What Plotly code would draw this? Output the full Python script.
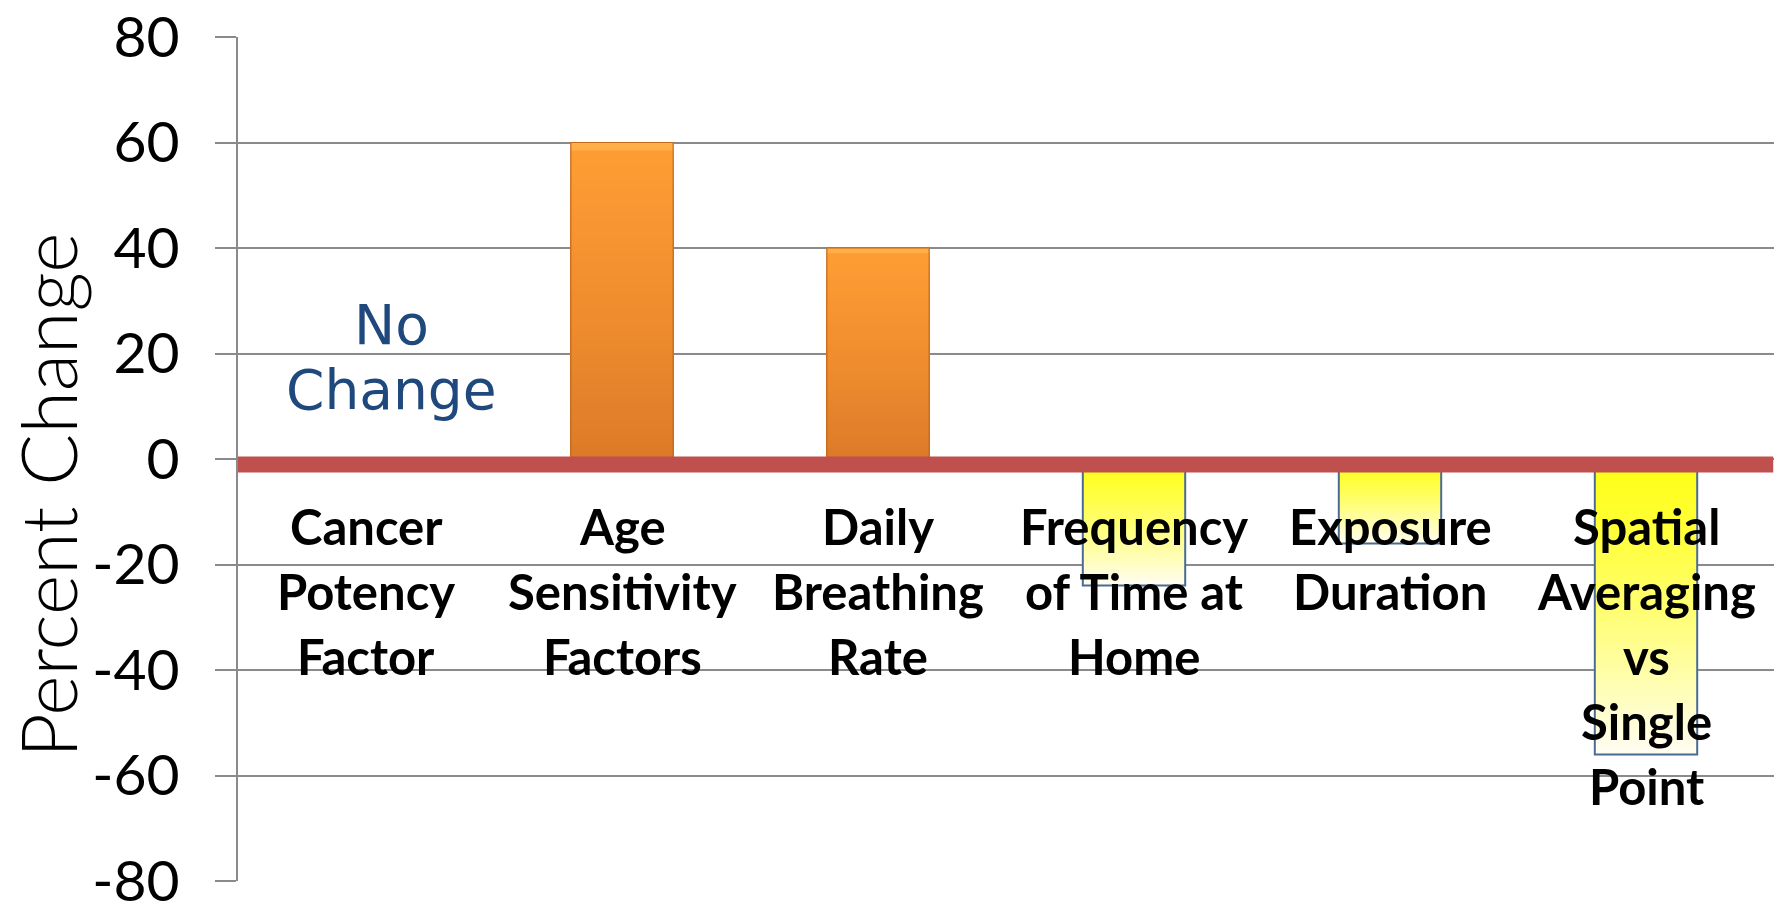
import plotly.graph_objects as go

# ---- data ----
categories = ["Cancer Potency Factor", "Age Sensitivity Factors", "Daily Breathing Rate",
              "Frequency of Time at Home", "Exposure Duration", "Spatial Averaging vs Single Point"]
label_lines = [["Cancer", "Potency", "Factor"],
               ["Age", "Sensitivity", "Factors"],
               ["Daily", "Breathing", "Rate"],
               ["Frequency", "of Time at", "Home"],
               ["Exposure", "Duration"],
               ["Spatial", "Averaging", "vs", "Single", "Point"]]
values = [0, 60, 40, -24, -16, -56]
y_ticks = [80, 60, 40, 20, 0, -20, -40, -60, -80]

# ---- style ----
GRID = "#8a8a8a"
ORANGE_BOTTOM = (218, 120, 40)
ORANGE_TOP = (255, 157, 52)
ORANGE_BEVEL = (255, 185, 85)
YEL_TOP = (255, 255, 20)
YEL_BOTTOM = (255, 253, 240)


def mix(a, b, t):
    return "rgb(%d,%d,%d)" % tuple(round(a[i] + (b[i] - a[i]) * t) for i in range(3))


fig = go.Figure()

N = 40
for k in range(N):
    f = 1 - k / N
    colors = []
    for v in values:
        if v >= 0:
            if f > 0.98:
                colors.append(mix(ORANGE_TOP, ORANGE_BEVEL, 0.6))
            else:
                colors.append(mix(ORANGE_BOTTOM, ORANGE_TOP, f ** 0.8))
        else:
            colors.append(mix(YEL_TOP, YEL_BOTTOM, f ** 1.3))
    fig.add_trace(go.Bar(x=categories, y=[v * f for v in values], width=0.4,
                         marker=dict(color=colors, line=dict(width=0)),
                         showlegend=False, hoverinfo="skip"))

# outline layer
line_colors = ["#c2691c" if v >= 0 else "#4a6b93" for v in values]
line_widths = [1.2 if v >= 0 else 2 for v in values]
fig.add_trace(go.Bar(x=categories, y=values, width=0.4,
                     marker=dict(color="rgba(0,0,0,0)",
                                 line=dict(color=line_colors, width=line_widths)),
                     showlegend=False, hovertemplate="%{x}: %{y}<extra></extra>"))

# red baseline band
fig.add_shape(type="line", xref="paper", x0=0, x1=0.9995, yref="y", y0=-1.05, y1=-1.05,
              line=dict(color="#c0504d", width=16), layer="above")

# category labels (one annotation per line)
for cat, lines in zip(categories, label_lines):
    for i, ln in enumerate(lines):
        fig.add_annotation(x=cat, y=0, xref="x", yref="y", text=ln, showarrow=False,
                           xanchor="center", yanchor="middle", yshift=-(67 + 65 * i),
                           font=dict(family="Lato", size=49, color="black", weight="bold"))

# "No Change" note
for i, ln in enumerate(["No", "Change"]):
    fig.add_annotation(x=categories[0], y=0, xref="x", yref="y", text=ln, showarrow=False,
                       xanchor="center", yanchor="middle", xshift=25, yshift=134 - 65 * i,
                       font=dict(family="DejaVu Sans", size=55, color="#1f497d"))

# y-axis title
fig.add_annotation(x=-0.1243, y=0.4564, xref="paper", yref="paper", text="Percent Change",
                   showarrow=False, textangle=-90, xanchor="center", yanchor="middle",
                   font=dict(family="Lato", size=77, color="black", weight=300))

fig.update_layout(
    width=1786, height=915,
    margin=dict(l=238, r=12, t=37, b=34, autoexpand=False),
    paper_bgcolor="white", plot_bgcolor="white",
    barmode="overlay", bargap=0.6,
    showlegend=False,
    xaxis=dict(type="category", showticklabels=False, showgrid=False, zeroline=False,
               showline=False, ticks="", range=[-0.5, 5.5], automargin=False),
    yaxis=dict(range=[-80, 80], tickvals=y_ticks, ticktext=[str(t) for t in y_ticks],
               showgrid=True, gridcolor=GRID, gridwidth=2, zeroline=False,
               showline=True, linecolor=GRID, linewidth=2,
               ticks="outside", ticklen=21, tickwidth=2, tickcolor=GRID,
               ticklabelstandoff=24, automargin=False, ticklabeloverflow="allow",
               tickfont=dict(family="Lato", size=57, color="black")),
)

fig.write_html("out.html", config={"displayModeBar": False},
               post_script="document.body.style.margin='0px';document.body.style.overflow='hidden';")
